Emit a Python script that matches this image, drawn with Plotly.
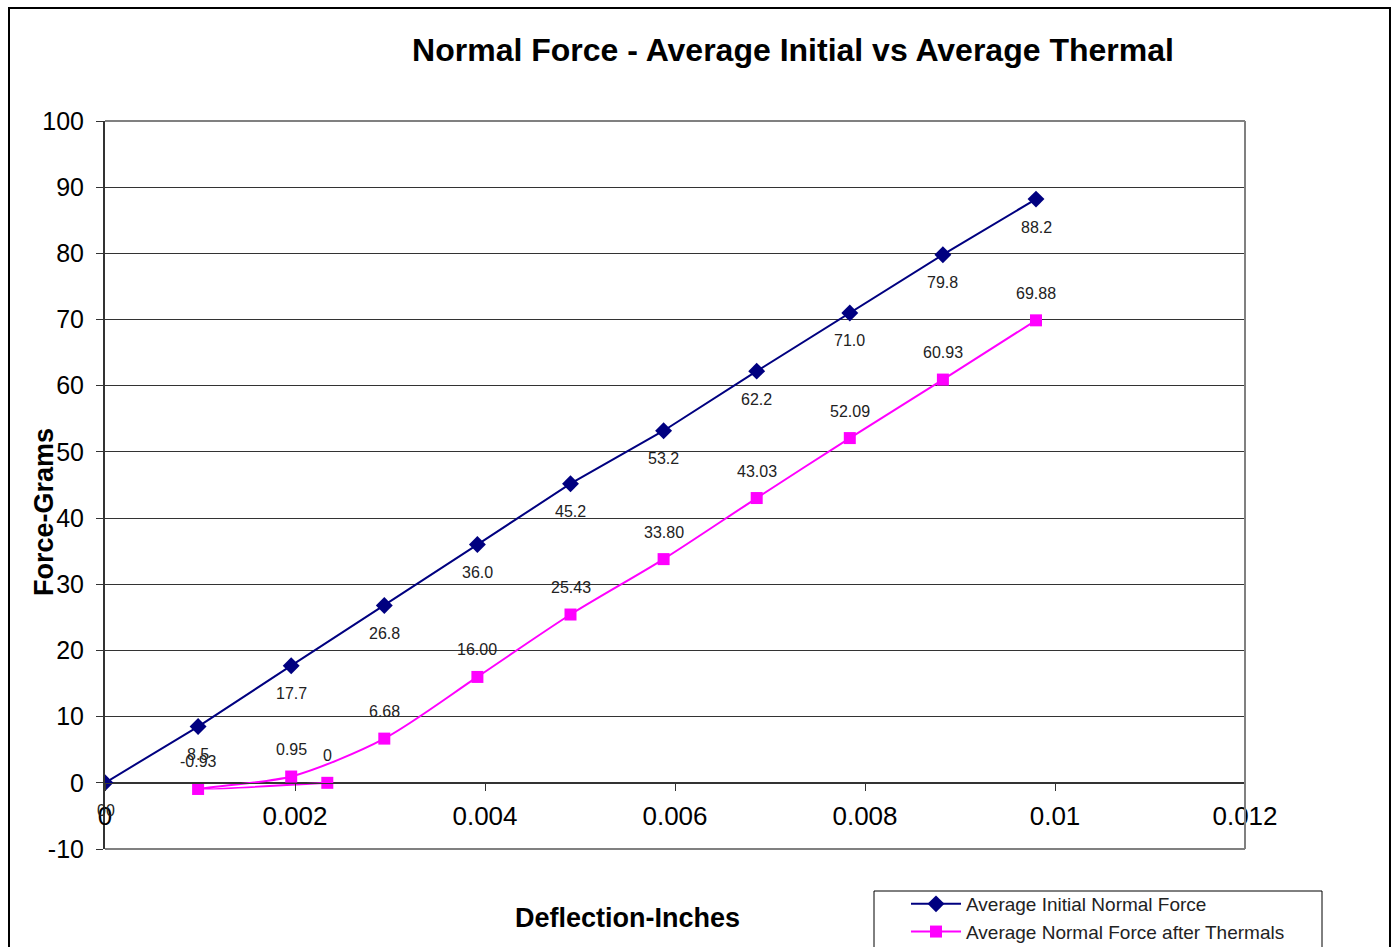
import plotly.graph_objects as go

# Deflection (inches) and normal force (grams)
initial_deflection = [0, 0.00098, 0.00196, 0.00294, 0.00392, 0.0049,
                      0.00588, 0.00686, 0.00784, 0.00882, 0.0098]
initial_force = [0, 8.5, 17.7, 26.8, 36.0, 45.2, 53.2, 62.2, 71.0, 79.8, 88.2]

thermal_deflection = [0.00234, 0.00098, 0.00196, 0.00294, 0.00392, 0.0049,
                      0.00588, 0.00686, 0.00784, 0.00882, 0.0098]
thermal_force = [0, -0.93, 0.95, 6.68, 16.00, 25.43, 33.80, 43.03,
                 52.09, 60.93, 69.88]

x_ticks = [0, 0.002, 0.004, 0.006, 0.008, 0.01, 0.012]
x_tick_text = ["0", "0.002", "0.004", "0.006", "0.008", "0.01", "0.012"]
y_ticks = list(range(-10, 101, 10))
y_tick_text = [str(v) for v in y_ticks]

NAVY = "#000080"
MAGENTA = "#FF00FF"
FONT = "Liberation Sans, Arial, sans-serif"

# Plot-area pixel box used for placing text outside the axes
L, R, T, B = 105, 1245, 121, 849
W, H = 1397, 947


def px_x(p):
    return (p - L) / (R - L)


def px_y(p):
    return (B - p) / (B - T)


fig = go.Figure()

fig.add_trace(go.Scatter(
    x=initial_deflection, y=initial_force, mode="lines+markers",
    name="Average Initial Normal Force",
    line=dict(color=NAVY, width=2),
    marker=dict(symbol="diamond", size=13, color=NAVY),
    hoverinfo="skip",
))
fig.add_trace(go.Scatter(
    x=thermal_deflection, y=thermal_force, mode="lines+markers",
    name="Average Normal Force after Thermals",
    line=dict(color=MAGENTA, width=2, shape="spline", smoothing=0.8),
    marker=dict(symbol="square", size=12, color=MAGENTA),
    hoverinfo="skip",
))

annotations = []
label_font = dict(family=FONT, size=16, color="#222222")

# value labels: initial series below its markers, thermal series above
for xv, yv in zip(initial_deflection, initial_force):
    annotations.append(dict(
        x=xv, y=yv, xref="x", yref="y", showarrow=False,
        text=f"{yv:.1f}" if yv else "0", font=label_font,
        yshift=-28, xshift=-4 if yv == 0 else 0))
annotations.append(dict(
    x=0, y=0, xref="x", yref="y", showarrow=False, text="0",
    font=label_font, yshift=-28, xshift=5))
for xv, yv in zip(thermal_deflection, thermal_force):
    annotations.append(dict(
        x=xv, y=yv, xref="x", yref="y", showarrow=False,
        text=f"{yv:.2f}" if yv else "0", font=label_font, yshift=27))

# axis titles
annotations.append(dict(
    x=px_x(627), y=px_y(918), xref="paper", yref="paper", showarrow=False,
    xanchor="center", yanchor="middle",
    text="<b>Deflection-Inches</b>",
    font=dict(family=FONT, size=27, color="black")))
annotations.append(dict(
    x=px_x(44), y=px_y(512), xref="paper", yref="paper", showarrow=False,
    xanchor="center", yanchor="middle",
    text="<b>Force-Grams</b>", textangle=-90,
    font=dict(family=FONT, size=27, color="black")))

shapes = [
    # plot-area frame (top, right, bottom)
    dict(type="line", xref="paper", yref="paper", x0=0, x1=1, y0=1, y1=1,
         line=dict(color="#808080", width=2)),
    dict(type="line", xref="paper", yref="paper", x0=1, x1=1, y0=0, y1=1,
         line=dict(color="#808080", width=2)),
    dict(type="line", xref="paper", yref="paper", x0=0, x1=1, y0=0, y1=0,
         line=dict(color="#808080", width=2)),
    # chart outer border
    dict(type="rect", xref="paper", yref="paper",
         x0=px_x(9), x1=px_x(1390), y0=px_y(975), y1=px_y(8),
         line=dict(color="black", width=2), layer="below"),
    # legend box
    dict(type="rect", xref="paper", yref="paper",
         x0=px_x(874), x1=px_x(1322), y0=px_y(965), y1=px_y(891),
         line=dict(color="black", width=1), layer="below"),
]

fig.update_layout(
    width=W, height=H,
    margin=dict(l=L, r=W - R, t=T, b=H - B, autoexpand=False),
    paper_bgcolor="white", plot_bgcolor="white",
    title=dict(
        text="<b>Normal Force - Average Initial vs Average Thermal</b>",
        x=793 / W, y=1 - 50 / H, xref="container", yref="container",
        xanchor="center", yanchor="middle",
        font=dict(family=FONT, size=32, color="black")),
    xaxis=dict(
        range=[0, 0.012], tickvals=x_ticks, ticktext=x_tick_text,
        showgrid=False, zeroline=False,
        showline=True, linecolor="#333333", linewidth=1,
        ticks="outside", ticklen=7, tickcolor="#333333",
        anchor="free", position=1 / 11,
        tickfont=dict(family=FONT, size=26, color="black"),
        ticklabelstandoff=3,
    ),
    yaxis=dict(
        range=[-10, 100], tickvals=y_ticks, ticktext=y_tick_text,
        showgrid=True, gridcolor="#333333", gridwidth=1,
        zeroline=False,
        showline=True, linecolor="#333333", linewidth=2,
        ticks="outside", ticklen=7, tickcolor="#333333",
        tickfont=dict(family=FONT, size=25, color="black"),
        ticklabelstandoff=7,
    ),
    legend=dict(
        x=px_x(906), y=px_y(885), xanchor="left", yanchor="top",
        borderwidth=0, bgcolor="rgba(0,0,0,0)",
        font=dict(family=FONT, size=19, color="#222222"),
        itemwidth=50, tracegroupgap=0,
    ),
    annotations=annotations,
    shapes=shapes,
    hovermode=False,
)

fig.write_html("out.html")
